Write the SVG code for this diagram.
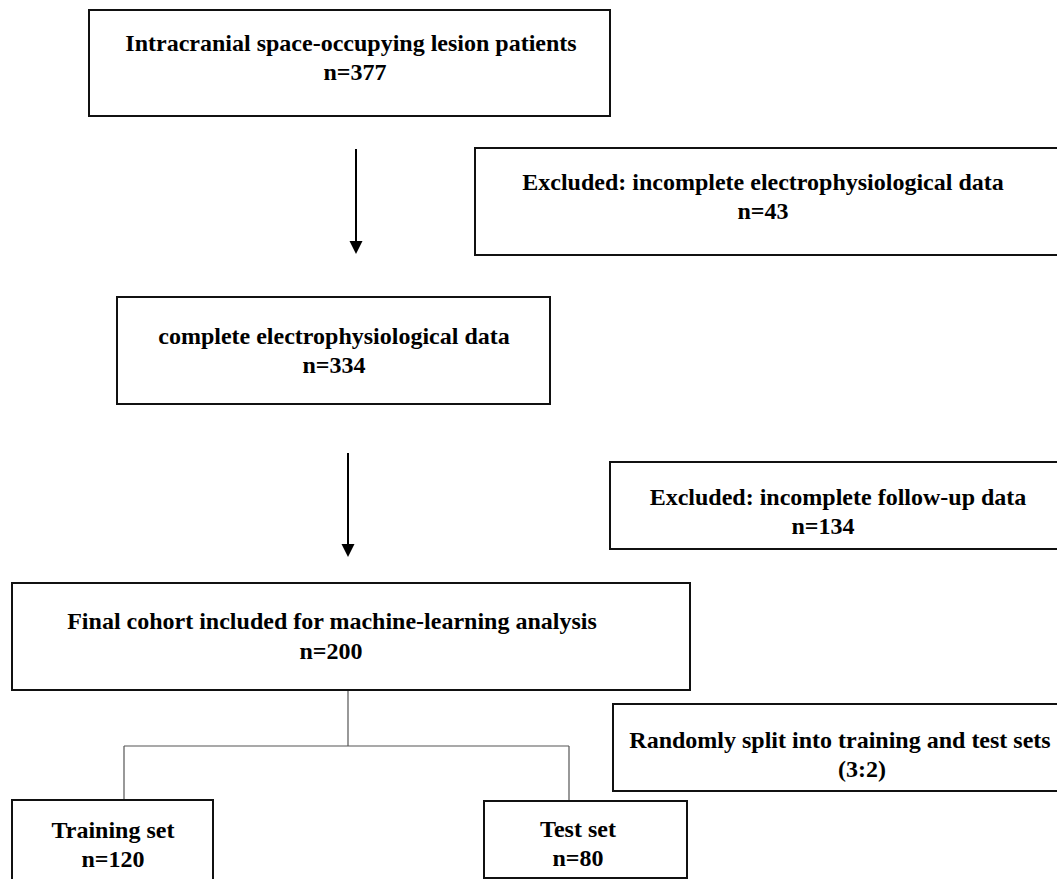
<svg xmlns="http://www.w3.org/2000/svg" width="1057" height="879" viewBox="0 0 1057 879">
<style>
.box{fill:#fff;stroke:#111;stroke-width:2}
.t{font-family:"Liberation Serif","Times New Roman",serif;font-weight:bold;font-size:24px;fill:#000;text-anchor:middle}
.arrow{stroke:#000;stroke-width:2;fill:none}
.head{fill:#000}
.conn{stroke:#555;stroke-width:1.2;fill:none}
</style>
<rect width="1057" height="879" fill="#fff"/>
<g id="connectors">
<line class="arrow" x1="356" y1="149" x2="356" y2="241"/>
<path class="head" d="M349.5,241 L362.5,241 L356,254 Z"/>
<line class="arrow" x1="348" y1="453" x2="348" y2="544"/>
<path class="head" d="M341.5,544 L354.5,544 L348,557 Z"/>
<path class="conn" d="M348,691 V746 M124,746 H569 M124,746 V800 M569,746 V801"/>
</g>
<g id="n1">
<rect class="box" x="89" y="10" width="521" height="106"/>
<text class="t" x="351" y="51">Intracranial space-occupying lesion patients</text>
<text class="t" x="355" y="80">n=377</text>
</g>
<g id="excl1">
<rect class="box" x="475" y="148" width="600" height="107"/>
<text class="t" x="763" y="190">Excluded: incomplete electrophysiological data</text>
<text class="t" x="763" y="219">n=43</text>
</g>
<g id="n2">
<rect class="box" x="117" y="297" width="433" height="107"/>
<text class="t" x="334" y="344">complete electrophysiological data</text>
<text class="t" x="334" y="373">n=334</text>
</g>
<g id="excl2">
<rect class="box" x="610" y="462" width="460" height="87"/>
<text class="t" x="838" y="505">Excluded: incomplete follow-up data</text>
<text class="t" x="823" y="534">n=134</text>
</g>
<g id="n3">
<rect class="box" x="12" y="583" width="678" height="107"/>
<text class="t" x="332" y="629">Final cohort included for machine-learning analysis</text>
<text class="t" x="331" y="659">n=200</text>
</g>
<g id="split">
<rect class="box" x="613" y="704" width="460" height="87"/>
<text class="t" x="840" y="748">Randomly split into training and test sets</text>
<text class="t" x="862" y="777">(3:2)</text>
</g>
<g id="train">
<rect class="box" x="12" y="800" width="201" height="90"/>
<text class="t" x="113" y="838">Training set</text>
<text class="t" x="113" y="867">n=120</text>
</g>
<g id="test">
<rect class="box" x="484" y="801" width="203" height="77"/>
<text class="t" x="578" y="837">Test set</text>
<text class="t" x="578" y="866">n=80</text>
</g>
</svg>
